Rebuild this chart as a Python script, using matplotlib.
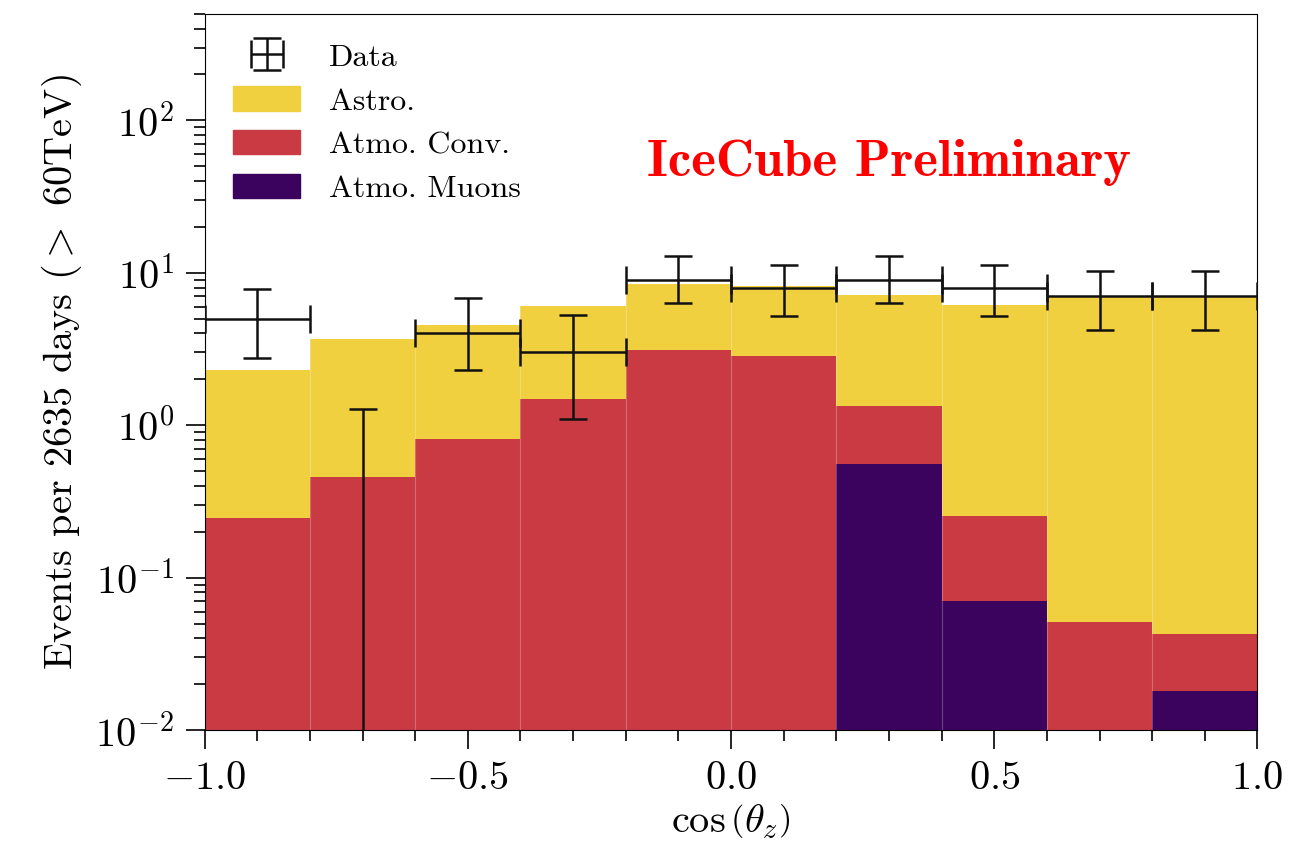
import numpy as np
import matplotlib
matplotlib.use("Agg")
import matplotlib.pyplot as plt
from matplotlib.patches import Patch

plt.rcParams['font.family'] = ['cmr10', 'DejaVu Serif']
plt.rcParams['mathtext.fontset'] = 'cm'
plt.rcParams['axes.formatter.use_mathtext'] = True

# ---- data ----
bin_edges = [-1.0, -0.8, -0.6, -0.4, -0.2, 0.0, 0.2, 0.4, 0.6, 0.8, 1.0]
atmo_muons = [0, 0, 0, 0, 0, 0, 0.56, 0.070, 0, 0.018]
atmo_conv = [0.245, 0.46, 0.81, 1.48, 3.1, 2.83, 0.77, 0.183, 0.051, 0.025]
astro = [2.05, 3.2, 3.7, 4.6, 5.4, 5.4, 5.87, 5.85, 6.95, 6.96]

data_x = [-0.9, -0.7, -0.5, -0.3, -0.1, 0.1, 0.3, 0.5, 0.7, 0.9]
data_y = [5, 0, 4, 3, 9, 8, 9, 8, 7, 7]
data_lo = [2.75, 0, 2.3, 1.1, 6.3, 5.2, 6.3, 5.2, 4.2, 4.2]
data_hi = [7.8, 1.27, 6.8, 5.3, 12.8, 11.2, 12.8, 11.2, 10.2, 10.2]

c_astro = '#F0D03F'
c_conv = '#C93A42'
c_muon = '#3C035E'

fig = plt.figure(figsize=(12.95, 8.6), dpi=100)
ax = fig.add_axes([0.158, 0.151, 0.813, 0.833])

edges = np.array(bin_edges)
top_mu = np.array(atmo_muons)
top_conv = top_mu + np.array(atmo_conv)
top_astro = top_conv + np.array(astro)

ax.stairs(top_astro, edges, baseline=top_conv, fill=True, color=c_astro, lw=0)
ax.stairs(top_conv, edges, baseline=top_mu, fill=True, color=c_conv, lw=0)
ax.stairs(top_mu, edges, baseline=1e-4, fill=True, color=c_muon, lw=0)
for e in edges[1:-1]:
    ax.axvline(e, color='white', alpha=0.25, lw=0.8, zorder=1.5)

dy = np.array(data_y, dtype=float)
yerr = np.vstack([dy - np.array(data_lo), np.array(data_hi) - dy])
h_data = ax.errorbar(data_x, dy, yerr=yerr, xerr=0.1, fmt='none', ecolor='#111111',
                     elinewidth=1.8, capsize=10, capthick=1.8, zorder=3)

ax.set_yscale('log')
ax.set_xlim(-1.0, 1.0)
ax.set_ylim(1e-2, 500)

ax.set_xticks([-1.0, -0.5, 0.0, 0.5, 1.0])
ax.set_xticks(np.arange(-1.0, 1.01, 0.1), minor=True)
ax.xaxis.set_major_formatter(matplotlib.ticker.FuncFormatter(
    lambda v, p: r'$%.1f$' % v if abs(v) > 1e-9 else r'$0.0$'))
ax.tick_params(axis='both', which='major', direction='out', length=14, width=1.2,
               labelsize=29, pad=8)
ax.tick_params(axis='both', which='minor', direction='out', length=8, width=1.2)

ax.set_xlabel(r'$\cos\left(\theta_z\right)$', fontsize=29, labelpad=4)
ax.set_ylabel(r'Events per 2635 days ($>$ 60TeV)', fontsize=29, labelpad=8)

ax.text(0.65, 0.793, 'IceCube Preliminary', transform=ax.transAxes,
        color='red', fontsize=38, family='cmb10', ha='center', va='center')

handles = [h_data, Patch(color=c_astro), Patch(color=c_conv), Patch(color=c_muon)]
labels = ['Data', 'Astro.', 'Atmo. Conv.', 'Atmo. Muons']
ax.legend(handles, labels, loc='upper left', frameon=False, fontsize=23,
          handlelength=2.1, handleheight=0.8, labelspacing=0.45, handletextpad=0.9,
          borderaxespad=0.5, bbox_to_anchor=(0.0, 1.0))

fig.savefig('out.png', dpi=100)
